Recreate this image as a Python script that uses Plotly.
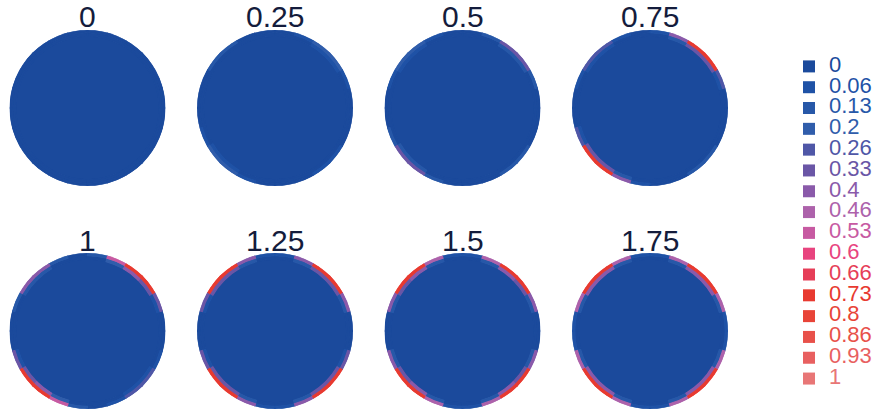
import plotly.graph_objects as go

# ---------------- data ----------------
TIMES = ["0", "0.25", "0.5", "0.75", "1", "1.25", "1.5", "1.75"]

LEVEL_LABELS = ["0", "0.06", "0.13", "0.2", "0.26", "0.33", "0.4", "0.46",
                "0.53", "0.6", "0.66", "0.73", "0.8", "0.86", "0.93", "1"]
LEVEL_COLORS = ["#1b4a9c", "#1f52a6", "#2758a8", "#305dab", "#4f57a7", "#6a56a6",
                "#8a5aaa", "#ad62ab", "#c75aa2", "#e8447f", "#e63e58", "#e83a30",
                "#e84438", "#e8514a", "#e86060", "#e87676"]

# 24 angular sectors of 15 degrees (sector k spans 15k .. 15k+15 deg, 0 deg = right, CCW)
# level index (0..15) of the outer rim band of each panel
RIM_OUTER = [
    [0, 0, 0, 0, 0, 0, 0, 0, 0, 0, 0, 0, 0, 0, 0, 0, 0, 0, 0, 0, 0, 0, 0, 0],
    [0, 1, 3, 3, 1, 0, 0, 0, 2, 2, 0, 0, 0, 1, 3, 3, 1, 0, 0, 0, 1, 1, 0, 0],
    [0, 2, 5, 5, 2, 0, 0, 1, 3, 3, 1, 0, 0, 2, 5, 5, 2, 0, 0, 0, 2, 2, 0, 0],
    [0, 4, 11, 11, 6, 1, 0, 1, 4, 4, 1, 0, 0, 4, 11, 11, 6, 1, 0, 0, 2, 2, 0, 0],
    [0, 5, 11, 11, 8, 2, 0, 2, 6, 6, 2, 0, 0, 5, 11, 11, 8, 2, 0, 1, 4, 4, 1, 0],
    [0, 6, 11, 11, 6, 1, 1, 6, 11, 11, 5, 0, 0, 5, 11, 11, 6, 1, 1, 6, 11, 11, 5, 0],
    [0, 6, 11, 11, 7, 1, 1, 7, 11, 11, 6, 0, 0, 6, 11, 11, 7, 1, 1, 7, 11, 11, 6, 0],
    [1, 7, 11, 11, 7, 1, 1, 7, 11, 11, 7, 1, 1, 7, 11, 11, 7, 1, 1, 7, 11, 11, 7, 1],
]
# level index of the band just inside the rim
RIM_MID = [
    [0, 0, 0, 0, 0, 0, 0, 0, 0, 0, 0, 0, 0, 0, 0, 0, 0, 0, 0, 0, 0, 0, 0, 0],
    [0, 0, 1, 1, 0, 0, 0, 0, 0, 0, 0, 0, 0, 0, 1, 1, 0, 0, 0, 0, 0, 0, 0, 0],
    [0, 0, 2, 2, 0, 0, 0, 0, 1, 1, 0, 0, 0, 0, 2, 2, 0, 0, 0, 0, 0, 0, 0, 0],
    [0, 1, 5, 5, 2, 0, 0, 0, 1, 1, 0, 0, 0, 1, 5, 5, 2, 0, 0, 0, 0, 0, 0, 0],
    [0, 1, 5, 6, 3, 0, 0, 0, 2, 2, 0, 0, 0, 1, 5, 6, 3, 0, 0, 0, 1, 1, 0, 0],
    [0, 2, 5, 5, 2, 0, 0, 2, 5, 5, 1, 0, 0, 1, 5, 5, 2, 0, 0, 2, 5, 5, 1, 0],
    [0, 2, 5, 6, 2, 0, 0, 2, 6, 5, 2, 0, 0, 2, 5, 6, 2, 0, 0, 2, 6, 5, 2, 0],
    [0, 2, 6, 6, 2, 0, 0, 2, 6, 6, 2, 0, 0, 2, 6, 6, 2, 0, 0, 2, 6, 6, 2, 0],
]

# ---------------- geometry / style ----------------
W, H = 878, 414
SECTOR = 15.0
CORE_R = 0.92
MID_R = 0.965
COL_CX = [87.5, 275, 462.5, 650]
ROW_CY = [108, 331]
RAD = 78
TITLE_Y = [17, 240]
FONT = "Liberation Sans, Arial, sans-serif"
TITLE_COLOR = "#141c3c"

fig = go.Figure()

# legend-only entries (in order)
for lab, col in zip(LEVEL_LABELS, LEVEL_COLORS):
    fig.add_trace(go.Barpolar(
        r=[0], theta=[0], width=[1], subplot="polar",
        marker=dict(color=col, line=dict(width=0)),
        name=f'<span style="color:{col};font-size:22px">{lab}</span>',
        showlegend=True, hoverinfo="skip"))

annotations = []
for p in range(8):
    sub = "polar" if p == 0 else f"polar{p + 1}"
    bars = {i: dict(r=[], theta=[], base=[], width=[]) for i in range(len(LEVEL_LABELS))}
    # core disk
    bars[0]["r"].append(CORE_R); bars[0]["theta"].append(180)
    bars[0]["base"].append(0); bars[0]["width"].append(360)
    for k in range(24):
        th = k * SECTOR + SECTOR / 2
        lm = RIM_MID[p][k]
        bars[lm]["r"].append(MID_R - CORE_R); bars[lm]["theta"].append(th)
        bars[lm]["base"].append(CORE_R); bars[lm]["width"].append(SECTOR)
        lo = RIM_OUTER[p][k]
        bars[lo]["r"].append(1 - MID_R); bars[lo]["theta"].append(th)
        bars[lo]["base"].append(MID_R); bars[lo]["width"].append(SECTOR)
    for i, b in bars.items():
        if not b["r"]:
            continue
        fig.add_trace(go.Barpolar(
            r=b["r"], theta=b["theta"], base=b["base"], width=b["width"],
            subplot=sub, showlegend=False, hoverinfo="skip",
            marker=dict(color=LEVEL_COLORS[i],
                        line=dict(color=LEVEL_COLORS[i], width=1.2))))
    row, col = divmod(p, 4)
    cx, cy = COL_CX[col], ROW_CY[row]
    fig.layout[sub] = dict(
        domain=dict(x=[(cx - RAD) / W, (cx + RAD) / W],
                    y=[1 - (cy + RAD) / H, 1 - (cy - RAD) / H]),
        bgcolor="white", bargap=0,
        radialaxis=dict(visible=False, range=[0, 1]),
        angularaxis=dict(visible=False),
    )
    annotations.append(dict(
        text=TIMES[p], x=cx / W, y=1 - TITLE_Y[row] / H, xref="paper", yref="paper",
        xanchor="center", yanchor="middle", showarrow=False,
        font=dict(family=FONT, size=30, color=TITLE_COLOR)))

fig.update_layout(
    width=W, height=H,
    margin=dict(l=0, r=0, t=0, b=0, pad=0, autoexpand=False),
    paper_bgcolor="white", plot_bgcolor="white",
    annotations=annotations,
    showlegend=True,
    legend=dict(x=789 / W, y=1 - 51 / H, xanchor="left", yanchor="top",
                font=dict(family=FONT, size=13.7), bgcolor="rgba(0,0,0,0)",
                itemclick=False, itemdoubleclick=False),
)

fig.write_html("out.html", config={"displayModeBar": False},
               post_script="document.body.style.margin='0';")
